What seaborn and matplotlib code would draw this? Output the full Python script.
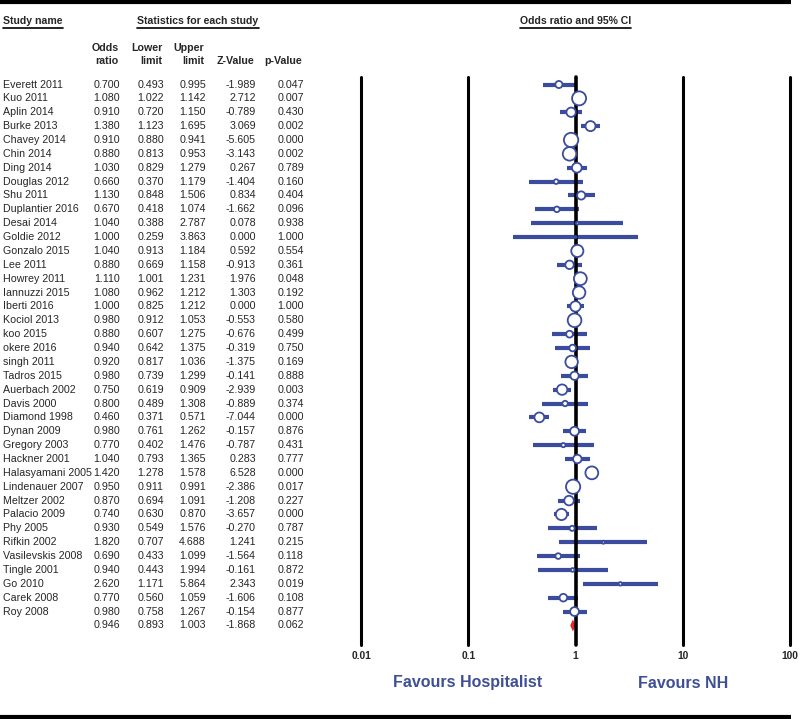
"""
Forest plot: hospitalist vs non-hospitalist care, odds ratio and 95% CI
"""

import numpy as np
import pandas as pd
import matplotlib
matplotlib.use('Agg')
import matplotlib.pyplot as plt
import seaborn as sns

# ─────────────────────────────────────────────
# Data
# ─────────────────────────────────────────────
studies = [
    'Everett 2011', 'Kuo 2011', 'Aplin 2014', 'Burke 2013', 'Chavey 2014',
    'Chin 2014', 'Ding 2014', 'Douglas 2012', 'Shu 2011', 'Duplantier 2016',
    'Desai 2014', 'Goldie 2012', 'Gonzalo 2015', 'Lee 2011', 'Howrey 2011',
    'Iannuzzi 2015', 'Iberti 2016', 'Kociol 2013', 'koo 2015', 'okere 2016',
    'singh 2011', 'Tadros 2015', 'Auerbach 2002', 'Davis 2000', 'Diamond 1998',
    'Dynan 2009', 'Gregory 2003', 'Hackner 2001', 'Halasyamani 2005',
    'Lindenauer 2007', 'Meltzer 2002', 'Palacio 2009', 'Phy 2005',
    'Rifkin 2002', 'Vasilevskis 2008', 'Tingle 2001', 'Go 2010',
    'Carek 2008', 'Roy 2008',
]
odds_ratio = [0.700, 1.080, 0.910, 1.380, 0.910, 0.880, 1.030, 0.660, 1.130, 0.670,
              1.040, 1.000, 1.040, 0.880, 1.110, 1.080, 1.000, 0.980, 0.880, 0.940,
              0.920, 0.980, 0.750, 0.800, 0.460, 0.980, 0.770, 1.040, 1.420, 0.950,
              0.870, 0.740, 0.930, 1.820, 0.690, 0.940, 2.620, 0.770, 0.980]
lower_limit = [0.493, 1.022, 0.720, 1.123, 0.880, 0.813, 0.829, 0.370, 0.848, 0.418,
               0.388, 0.259, 0.913, 0.669, 1.001, 0.962, 0.825, 0.912, 0.607, 0.642,
               0.817, 0.739, 0.619, 0.489, 0.371, 0.761, 0.402, 0.793, 1.278, 0.911,
               0.694, 0.630, 0.549, 0.707, 0.433, 0.443, 1.171, 0.560, 0.758]
upper_limit = [0.995, 1.142, 1.150, 1.695, 0.941, 0.953, 1.279, 1.179, 1.506, 1.074,
               2.787, 3.863, 1.184, 1.158, 1.231, 1.212, 1.212, 1.053, 1.275, 1.375,
               1.036, 1.299, 0.909, 1.308, 0.571, 1.262, 1.476, 1.365, 1.578, 0.991,
               1.091, 0.870, 1.576, 4.688, 1.099, 1.994, 5.864, 1.059, 1.267]
z_value = [-1.989, 2.712, -0.789, 3.069, -5.605, -3.143, 0.267, -1.404, 0.834, -1.662,
           0.078, 0.000, 0.592, -0.913, 1.976, 1.303, 0.000, -0.553, -0.676, -0.319,
           -1.375, -0.141, -2.939, -0.889, -7.044, -0.157, -0.787, 0.283, 6.528, -2.386,
           -1.208, -3.657, -0.270, 1.241, -1.564, -0.161, 2.343, -1.606, -0.154]
p_value = [0.047, 0.007, 0.430, 0.002, 0.000, 0.002, 0.789, 0.160, 0.404, 0.096,
           0.938, 1.000, 0.554, 0.361, 0.048, 0.192, 1.000, 0.580, 0.499, 0.750,
           0.169, 0.888, 0.003, 0.374, 0.000, 0.876, 0.431, 0.777, 0.000, 0.017,
           0.227, 0.000, 0.787, 0.215, 0.118, 0.872, 0.019, 0.108, 0.877]

summary = {'or': 0.946, 'lo': 0.893, 'hi': 1.003, 'z': -1.868, 'p': 0.062}

ticks = [0.01, 0.1, 1, 10, 100]
tick_labels = ['0.01', '0.1', '1', '10', '100']

# ─────────────────────────────────────────────
# Styling / layout (pixel coordinates, 800x719 canvas)
# ─────────────────────────────────────────────
BLUE = '#3b4c9e'
TXTBLUE = '#3f4f96'
RED = '#e3262b'
W, H = 800, 719
ROW0, DY = 84.5, 13.87
FS = 7.7

sns.set_style('white')
plt.rcParams['font.family'] = ['Liberation Sans', 'DejaVu Sans']

df = pd.DataFrame({'study': studies, 'or': odds_ratio, 'lo': lower_limit,
                   'hi': upper_limit, 'z': z_value, 'p': p_value})
df['row'] = ROW0 + DY * np.arange(len(df))
y_sum = ROW0 + DY * len(df)

# random-effects style weights -> marker area
se = (np.log(df['hi']) - np.log(df['lo'])) / 3.92
df['w'] = 1.0 / (se ** 2 + 0.01)

fig = plt.figure(figsize=(W / 100, H / 100), dpi=100, facecolor='white')

# background axes in pixel units for text and borders
ax0 = fig.add_axes([0, 0, 1, 1])
ax0.set_xlim(0, W)
ax0.set_ylim(H, 0)
ax0.axis('off')

ax0.hlines([2, 717], 0, 791, color='black', lw=3.0)

renderer = fig.canvas.get_renderer()
inv = ax0.transData.inverted()


def underlined(x, y, s, ha):
    t = ax0.text(x, y, s, ha=ha, va='center', fontsize=7.6, fontweight='bold')
    bb = t.get_window_extent(renderer=renderer)
    (x1, _), (x2, _) = inv.transform([(bb.x0, 0), (bb.x1, 0)])
    ax0.plot([x1, x2], [y + 6.5, y + 6.5], color='black', lw=1.2)


underlined(3, 21.5, 'Study name', 'left')
underlined(198, 21.5, 'Statistics for each study', 'center')
underlined(575.5, 21.5, 'Odds ratio and 95% CI', 'center')

col_right = [120, 164, 206, 256, 304]
head_top = ['Odds', 'Lower', 'Upper', '', '']
head_bot = ['ratio', 'limit', 'limit', 'Z-Value', 'p-Value']
for x, a, b in zip(col_right, head_top, head_bot):
    if a:
        ax0.text(x - 1.5, 48, a, ha='right', va='center', fontsize=FS, fontweight='bold')
    ax0.text(x - 1.5, 61, b, ha='right', va='center', fontsize=FS, fontweight='bold')

cols = ['or', 'lo', 'hi', 'z', 'p']
for _, r in df.iterrows():
    ax0.text(3, r['row'], r['study'], ha='left', va='center', fontsize=FS)
    for x, c in zip(col_right, cols):
        ax0.text(x, r['row'], f"{r[c]:.3f}", ha='right', va='center', fontsize=FS)
for x, c in zip(col_right, cols):
    ax0.text(x, y_sum, f"{summary[c]:.3f}", ha='right', va='center', fontsize=FS)

ax0.text(468, 683, 'Favours Hospitalist', ha='center', va='center',
         fontsize=11.5, fontweight='bold', color=TXTBLUE)
ax0.text(683, 683, 'Favours NH', ha='center', va='center',
         fontsize=11.5, fontweight='bold', color=TXTBLUE)

# ─────────────────────────────────────────────
# Forest panel
# ─────────────────────────────────────────────
left, right, top, bottom = 361, 790, 77, 645
ax = fig.add_axes([left / W, 1 - bottom / H, (right - left) / W, (bottom - top) / H])
ax.patch.set_alpha(0)
ax.set_xscale('log')
ax.set_xlim(ticks[0], ticks[-1])
ax.set_ylim(bottom, top)

ax.hlines(df['row'], df['lo'], df['hi'], color=BLUE, lw=3.0, zorder=1)

for t in ticks:
    ax.axvline(t, color='black', lw=2.6 if t == 1 else 2.2, zorder=3, clip_on=False)

d = 6.0
ax.fill([summary['lo'], summary['or'], summary['hi'], summary['or']],
        [y_sum, y_sum - d, y_sum, y_sum + d], color=RED, lw=0, zorder=2)

wmin, wmax = df['w'].min(), df['w'].max()
sns.scatterplot(data=df, x='or', y='row', size='w', sizes=(1.1 * wmin, 1.1 * wmax),
                size_norm=(wmin, wmax), color='white', edgecolor=BLUE,
                linewidth=1.3, legend=False, ax=ax, zorder=4, clip_on=False)

ax.set_xticks(ticks)
ax.set_xticklabels(tick_labels, fontsize=7.4, fontweight='bold')
ax.minorticks_off()
ax.tick_params(axis='x', length=0, pad=4.5)
ax.set_yticks([])
ax.set_xlabel('')
ax.set_ylabel('')
for s in ax.spines.values():
    s.set_visible(False)

plt.savefig('out.png', dpi=100, facecolor='white')
